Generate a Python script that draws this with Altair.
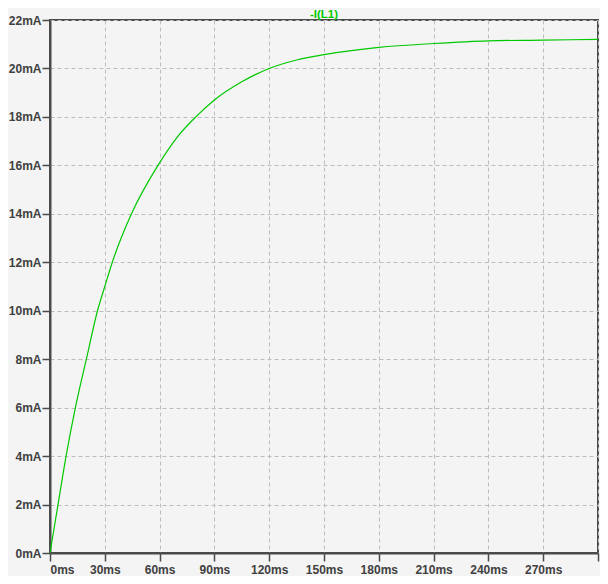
import altair as alt
import pandas as pd

# Values (time in ms, current in mA)
times_ms = [0, 4.4, 8.8, 13.9, 19.9, 26.0, 30, 34.1, 44.6, 59.1, 70, 79.8, 90,
            105, 120, 135, 150, 180, 210, 240, 270, 300]
current_ma = [0, 2, 4, 6, 8, 10, 11.0, 12, 14, 16, 17.2, 18, 18.7,
              19.45, 20.0, 20.35, 20.57, 20.87, 21.03, 21.14, 21.17, 21.2]

x_ticks = [0, 30, 60, 90, 120, 150, 180, 210, 240, 270, 300]
y_ticks = [0, 2, 4, 6, 8, 10, 12, 14, 16, 18, 20, 22]
trace_name = ["-I(L1)"]

df = pd.DataFrame({"t": times_ms, "i": current_ma})
title_df = pd.DataFrame({"label": trace_name})

FONT = "Liberation Sans"
LABEL_COLOR = "#404040"
FRAME = "#4a4a4a"
GREEN = "#00c800"

W, H = 548, 533

line = (
    alt.Chart(df)
    .mark_line(color=GREEN, strokeWidth=1.2, interpolate="monotone", clip=True)
    .encode(
        x=alt.X(
            "t:Q",
            scale=alt.Scale(domain=[0, 300], nice=False, zero=False),
            axis=alt.Axis(
                values=x_ticks,
                labelExpr="datum.value >= 300 ? '' : datum.value + 'ms'",
                title=None,
                tickSize=8,
                labelPadding=3,
            ),
        ),
        y=alt.Y(
            "i:Q",
            scale=alt.Scale(domain=[0, 22], nice=False),
            axis=alt.Axis(
                values=y_ticks,
                labelExpr="datum.value + 'mA'",
                title=None,
                tickSize=8,
                labelPadding=1,
            ),
        ),
    )
)

title = (
    alt.Chart(title_df)
    .mark_text(
        color=GREEN,
        font=FONT,
        fontSize=11.5,
        fontWeight="bold",
        align="center",
        baseline="alphabetic",
    )
    .encode(x=alt.value(W / 2), y=alt.value(-2.5), text="label:N")
)

chart = (
    alt.layer(line, title)
    .properties(
        width=W,
        height=H,
        autosize=alt.AutoSizeParams(type="none"),
        padding={"left": 42, "top": 12, "right": 2, "bottom": 23},
        background="#f4f4f4",
    )
    .configure_view(stroke=FRAME, strokeWidth=2, fill="#f4f4f4")
    .configure_axis(
        grid=True,
        gridColor="#bdbdbd",
        gridDash=[4, 3],
        gridWidth=1,
        domainColor=FRAME,
        domainWidth=2,
        tickColor=FRAME,
        tickWidth=1.5,
        labelColor=LABEL_COLOR,
        labelFont=FONT,
        labelFontSize=12,
        labelFontWeight="bold",
    )
)

chart.save("out.html", embed_options={"renderer": "svg", "actions": False})
